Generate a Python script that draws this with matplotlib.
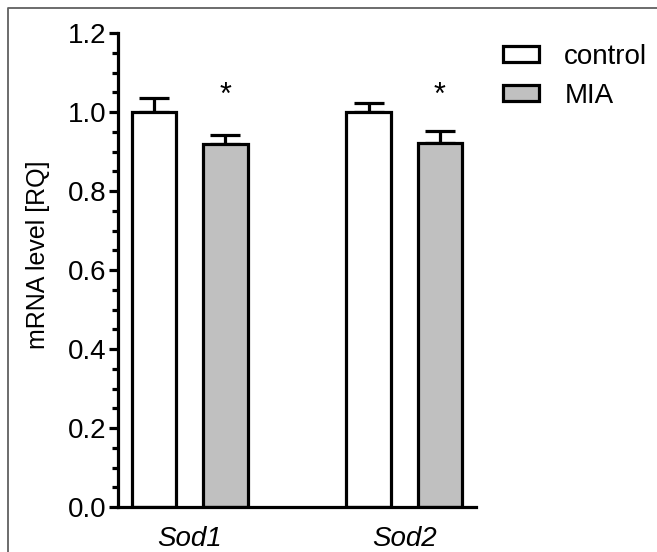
import matplotlib
matplotlib.use("Agg")
import matplotlib.pyplot as plt
from matplotlib.lines import Line2D
import numpy as np

plt.rcParams['font.family'] = ['Liberation Sans', 'DejaVu Sans']

genes = ["Sod1", "Sod2"]
groups = ["control", "MIA"]
control_mean = [1.0, 1.0]
control_err = [0.035, 0.022]
mia_mean = [0.919, 0.922]
mia_err = [0.022, 0.030]
sig = ["*", "*"]

fig = plt.figure(figsize=(6.57, 5.52), dpi=100)
# partial frame (left and top edges)
fig.lines.append(Line2D([7.5/657, 7.5/657, 1.0], [0.0, 1-7.5/552, 1-7.5/552],
                        transform=fig.transFigure, color="#606060", linewidth=1.3))
ax = fig.add_axes([118/657, 1-507/552, (476-118)/657, (507-33)/552])

x = np.arange(len(genes))
w = 0.206
off = 0.166
lw = 2.3
ax.bar(x - off, control_mean, w, color="white", edgecolor="black", linewidth=lw,
       label=groups[0], zorder=2)
ax.bar(x + off, mia_mean, w, color="#c0c0c0", edgecolor="black", linewidth=lw,
       label=groups[1], zorder=2)
ax.errorbar(x - off, control_mean, yerr=[np.zeros(2), control_err], fmt="none",
            ecolor="black", elinewidth=lw, capsize=11, capthick=lw, zorder=1)
ax.errorbar(x + off, mia_mean, yerr=[np.zeros(2), mia_err], fmt="none",
            ecolor="black", elinewidth=lw, capsize=11, capthick=lw, zorder=1)
for xi, s in zip(x + off, sig):
    ax.text(xi, 1.04, s, ha="center", va="center", fontsize=22)

ax.set_xlim(-0.336, 1.336)
ax.set_ylim(0, 1.2)
ax.set_yticks(np.arange(0, 1.21, 0.2))
ax.set_yticklabels([f"{v:.1f}" for v in np.arange(0, 1.21, 0.2)])
ax.set_yticks(np.arange(0, 1.21, 0.05), minor=True)
ax.set_xticks(x)
ax.set_xticklabels(genes, fontstyle="italic")
for sp in ["top", "right"]:
    ax.spines[sp].set_visible(False)
for sp in ["left", "bottom"]:
    ax.spines[sp].set_linewidth(lw)
ax.tick_params(axis="y", which="major", length=6.5, width=lw, labelsize=20, pad=2)
ax.tick_params(axis="y", which="minor", length=4, width=lw)
ax.tick_params(axis="x", length=0, labelsize=20, pad=14)
ax.set_ylabel("mRNA level [RQ]", fontsize=18)
ax.yaxis.set_label_coords(-0.19, 0.532)

leg = ax.legend(loc="upper left", bbox_to_anchor=(1.045, 1.0), frameon=False,
                fontsize=20, handlelength=1.3, handleheight=0.5, handletextpad=0.9,
                labelspacing=0.45, borderaxespad=0)
for h in leg.legend_handles:
    h.set_linewidth(lw)
fig.savefig("out.png", dpi=100)
